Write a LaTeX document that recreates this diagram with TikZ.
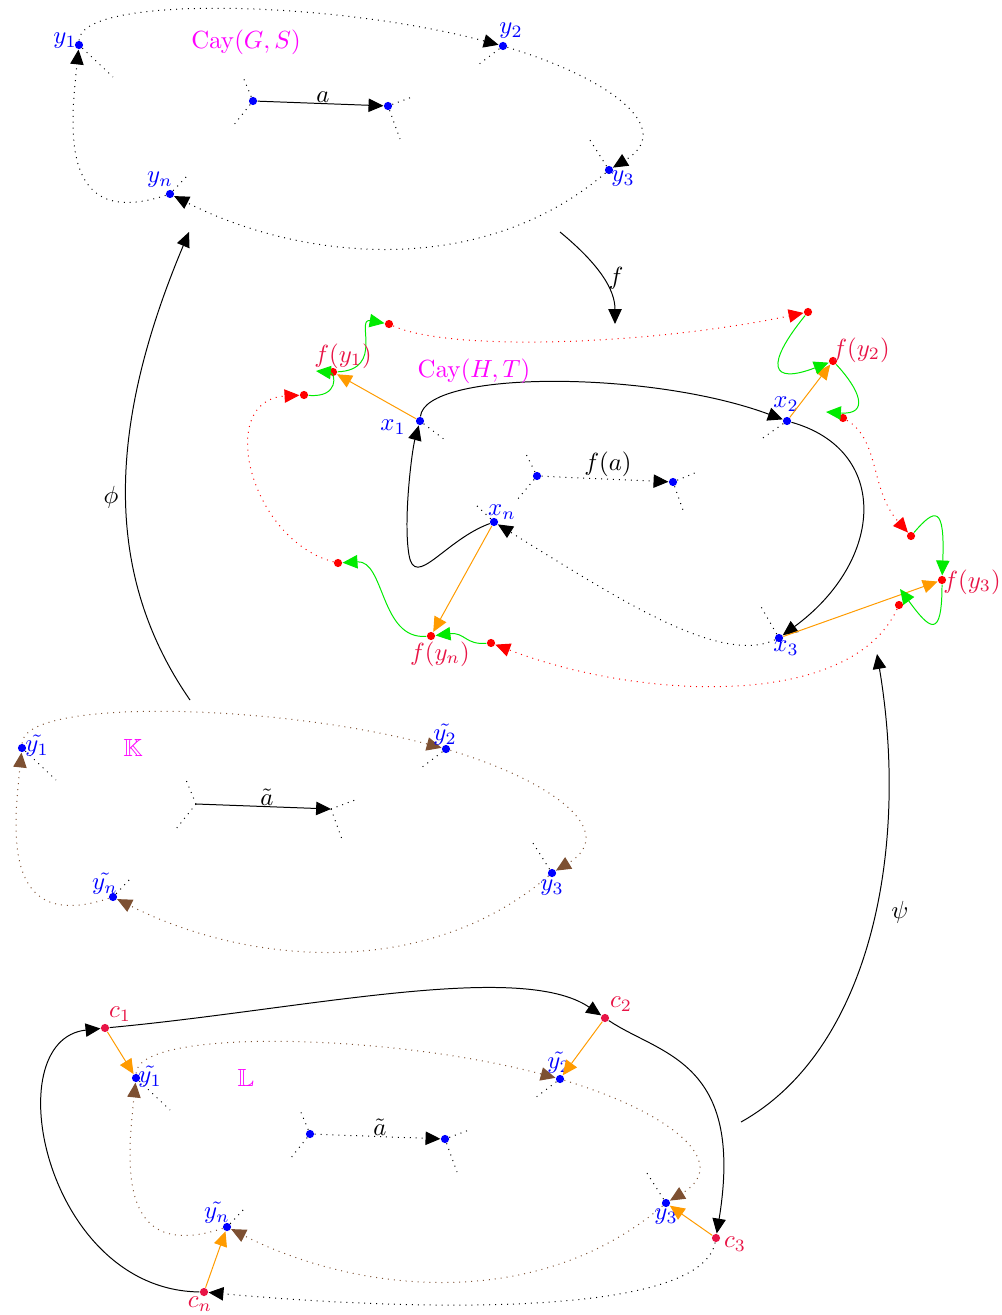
\documentclass[tikz,border=0pt]{standalone}
\usepackage{amssymb}
\usetikzlibrary{arrows.meta}
\definecolor{crim}{RGB}{232,20,70}
\definecolor{brn}{RGB}{125,80,50}
\definecolor{org}{RGB}{255,155,0}
\definecolor{grn}{RGB}{0,235,0}
\definecolor{mgt}{RGB}{255,0,255}
\definecolor{blu}{RGB}{0,0,255}
\definecolor{rd}{RGB}{255,0,0}
\begin{document}
\begin{tikzpicture}[x=0.4032pt,y=-0.4032pt,
  arr/.style={-{Triangle[length=6pt,width=5.4pt]}},
  bdot/.style={circle,fill=blu,inner sep=0pt,minimum size=3.3pt},
  rdot/.style={circle,fill=rd,inner sep=0pt,minimum size=3.3pt},
  cdot/.style={circle,fill=crim,inner sep=0pt,minimum size=3.3pt},
  stub/.style={dotted},
  lab/.style={inner sep=0pt,text=blu},
  flab/.style={inner sep=0pt,text=crim},
  mag/.style={inner sep=0pt,text=mgt},
  plab/.style={inner sep=0pt},
  oarr/.style={org,arr},
  garr/.style={grn,arr},
  rarr/.style={rd,dotted,arr},
  barr/.style={brn,dotted,arr}]
\path[use as bounding box] (0,0) rectangle (1001,1315);

% ================= G =================
\node[bdot] (g1) at (79,45) {};
\node[bdot] (g2) at (503,46) {};
\node[bdot] (g3) at (609,170) {};
\node[bdot] (gn) at (170,194) {};
\node[bdot] (ga) at (253,101) {};
\node[bdot] (gb) at (388,106) {};
\draw[stub] (g1) -- ++(34,32);
\draw[stub] (g2) -- ++(-25,19);
\draw[stub] (g3) -- ++(-21,-33);
\draw[stub] (gn) -- ++(18,-19);
\draw[stub] (ga) -- ++(-10,-24);
\draw[stub] (ga) -- ++(-20,25);
\draw[stub] (gb) -- ++(24,-9);
\draw[stub] (gb) -- ++(12,33);
\draw[dotted,arr] (g1) .. controls (80,-5) and (330,0) .. (g2);
\draw[dotted,arr] (g2) .. controls (615,80) and (675,130) .. (g3);
\draw[dotted,arr] (g3) .. controls (480,280) and (300,260) .. (gn);
\draw[dotted,arr] (gn) .. controls (60,230) and (70,130) .. (g1);
\draw[arr] (ga) -- (gb);
\node[plab] (gal) at (323,97) {$a$};
\node[lab] (g1l) at (65,41) {$y_1$};
\node[lab] (g2l) at (511,31) {$y_2$};
\node[lab] (g3l) at (623,179) {$y_3$};
\node[lab] (gnl) at (160,180) {$y_n$};
\node[mag] (gcay) at (246,42) {$\mathrm{Cay}(G,S)$};

% ================= maps =================
\coordinate (fs) at (560,232);
\coordinate (fe) at (615,324);
\draw[arr] (fs) .. controls (600,265) and (615,290) .. (fe);
\node[plab] (fl) at (616,278) {$f$};
\coordinate (ps) at (190,700);
\coordinate (pe) at (189,232);
\draw[arr] (ps) .. controls (100,570) and (110,420) .. (pe);
\node[plab] (pl) at (111,497) {$\phi$};
\coordinate (qs) at (741,1122);
\coordinate (qe) at (877,654);
\draw[arr] (qs) .. controls (870,1050) and (910,850) .. (qe);
\node[plab] (ql) at (900,912) {$\psi$};

% ================= H =================
\node[bdot] (h1) at (420,421) {};
\node[bdot] (h2) at (787,421) {};
\node[bdot] (h3) at (779,638) {};
\node[bdot] (hn) at (494,522) {};
\node[bdot] (ha) at (537,476) {};
\node[bdot] (hb) at (673,482) {};
\draw[stub] (h1) -- ++(25,19);
\draw[stub] (h2) -- ++(-27,19);
\draw[stub] (h3) -- ++(-19,-33);
\draw[stub] (hn) -- ++(-19,-18);
\draw[stub] (ha) -- ++(-12,-24);
\draw[stub] (ha) -- ++(-20,24);
\draw[stub] (hb) -- ++(24,-10);
\draw[stub] (hb) -- ++(11,31);
\draw[arr] (h1) .. controls (425,370) and (650,370) .. (h2);
\draw[arr] (h2) .. controls (890,450) and (885,560) .. (h3);
\draw[dotted,arr] (h3) .. controls (720,665) and (620,600) .. (hn);
\draw[arr] (hn) .. controls (445,540) and (415,590) .. (409,555)
               .. controls (403,520) and (412,450) .. (h1);
\draw[dotted,arr] (ha) -- (hb);
\node[plab] (hal) at (608,464) {$f(a)$};
\node[lab] (h1l) at (393,427) {$x_1$};
\node[lab] (h2l) at (786,404) {$x_2$};
\node[lab] (h3l) at (786,648) {$x_3$};
\node[lab] (hnl) at (502,512) {$x_n$};
\node[mag] (hcay) at (474,371) {$\mathrm{Cay}(H,T)$};

% images f(y_i) and neighbours
\node[rdot] (fy1) at (333,372) {};
\node[rdot] (fy2) at (833,361) {};
\node[rdot] (fy3) at (942,580) {};
\node[rdot] (fyn) at (431,636) {};
\node[rdot] (i1) at (304,395) {};
\node[rdot] (o1) at (389,324) {};
\node[rdot] (i2) at (808,312) {};
\node[rdot] (o2) at (843,418) {};
\node[rdot] (i3) at (911,536) {};
\node[rdot] (o3) at (899,605) {};
\node[rdot] (i4) at (491,643) {};
\node[rdot] (o4) at (338,563) {};
\coordinate (t1) at (316,371);
\coordinate (t2) at (826,412);
\coordinate (t3) at (900,589);
\draw[oarr] (h1) -- (fy1);
\draw[oarr] (h2) -- (fy2);
\draw[oarr] (h3) -- (fy3);
\draw[oarr] (hn) -- (fyn);
\draw[rarr] (o1) .. controls (450,352) and (650,345) .. (i2);
\draw[rarr] (o2) .. controls (880,440) and (870,490) .. (i3);
\draw[rarr] (o3) .. controls (850,710) and (640,700) .. (i4);
\draw[rarr] (o4) .. controls (250,540) and (215,400) .. (i1);
\draw[garr] (i1) .. controls (340,398) and (335,373) .. (t1);
\draw[garr] (fy1) .. controls (385,370) and (355,318) .. (o1);
\draw[garr] (i2) .. controls (765,365) and (770,385) .. (fy2);
\draw[garr] (fy2) .. controls (860,390) and (870,415) .. (t2);
\draw[garr] (i3) .. controls (935,508) and (945,505) .. (fy3);
\draw[garr] (fy3) .. controls (942,640) and (930,630) .. (t3);
\draw[garr] (i4) .. controls (465,645) and (465,632) .. (fyn);
\draw[garr] (fyn) .. controls (380,640) and (385,560) .. (o4);
\node[flab] (fy1l) at (343,356) {$f(y_1)$};
\node[flab] (fy2l) at (861,350) {$f(y_2)$};
\node[flab] (fy3l) at (972,582) {$f(y_3)$};
\node[flab] (fynl) at (440,654) {$f(y_n)$};

% ================= K =================
\node[bdot] (k1) at (22,748) {};
\node[bdot] (k2) at (446,749) {};
\node[bdot] (k3) at (552,873) {};
\node[bdot] (kn) at (113,897) {};
\coordinate (ka) at (196,804);
\coordinate (kb) at (331,809);
\draw[stub] (k1) -- ++(34,32);
\draw[stub] (k2) -- ++(-25,19);
\draw[stub] (k3) -- ++(-21,-33);
\draw[stub] (kn) -- ++(18,-19);
\draw[stub] (ka) -- ++(-10,-24);
\draw[stub] (ka) -- ++(-20,25);
\draw[stub] (kb) -- ++(24,-9);
\draw[stub] (kb) -- ++(12,33);
\draw[barr] (k1) .. controls (23,698) and (273,703) .. (k2);
\draw[barr] (k2) .. controls (558,783) and (618,833) .. (k3);
\draw[barr] (k3) .. controls (423,983) and (243,963) .. (kn);
\draw[barr] (kn) .. controls (3,933) and (13,833) .. (k1);
\draw[arr] (ka) -- (kb);
\node[plab] (kal) at (267,797) {$\tilde{a}$};
\node[lab] (k1l) at (37,746) {$\tilde{y_1}$};
\node[lab] (k2l) at (445,735) {$\tilde{y_2}$};
\node[lab] (k3l) at (552,885) {$\tilde{y_3}$};
\node[lab] (knl) at (105,884) {$\tilde{y_n}$};
\node[mag] (kK) at (133,748) {$\mathbb{K}$};

% ================= L =================
\node[bdot] (l1) at (136,1078) {};
\node[bdot] (l2) at (560,1079) {};
\node[bdot] (l3) at (666,1203) {};
\node[bdot] (ln) at (227,1227) {};
\node[bdot] (la) at (310,1134) {};
\node[bdot] (lb) at (445,1139) {};
\draw[stub] (l1) -- ++(34,32);
\draw[stub] (l2) -- ++(-25,19);
\draw[stub] (l3) -- ++(-21,-33);
\draw[stub] (ln) -- ++(18,-19);
\draw[stub] (la) -- ++(-10,-24);
\draw[stub] (la) -- ++(-20,25);
\draw[stub] (lb) -- ++(24,-9);
\draw[stub] (lb) -- ++(12,33);
\draw[barr] (l1) .. controls (137,1028) and (387,1033) .. (l2);
\draw[barr] (l2) .. controls (672,1113) and (732,1163) .. (l3);
\draw[barr] (l3) .. controls (537,1313) and (357,1293) .. (ln);
\draw[barr] (ln) .. controls (117,1263) and (127,1163) .. (l1);
\draw[dotted,arr] (la) -- (lb);
\node[plab] (lal) at (380,1127) {$\tilde{a}$};
\node[lab] (l1l) at (150,1077) {$\tilde{y_1}$};
\node[lab] (l2l) at (559,1063) {$\tilde{y_2}$};
\node[lab] (l3l) at (666,1214) {$\tilde{y_3}$};
\node[lab] (lnl) at (217,1213) {$\tilde{y_n}$};
\node[mag] (lL) at (246,1078) {$\mathbb{L}$};

\node[cdot] (c1) at (105,1028) {};
\node[cdot] (c2) at (605,1018) {};
\node[cdot] (c3) at (716,1238) {};
\node[cdot] (cn) at (204,1292) {};
\draw[arr] (c1) .. controls (300,1010) and (520,960) .. (c2);
\draw[arr] (c2) .. controls (660,1055) and (745,1060) .. (c3);
\draw[dotted,arr] (c3) .. controls (700,1320) and (400,1310) .. (cn);
\draw[arr] (cn) .. controls (45,1290) and (-5,1040) .. (c1);
\draw[oarr] (c1) -- (l1);
\draw[oarr] (c2) -- (l2);
\draw[oarr] (c3) -- (l3);
\draw[oarr] (cn) -- (ln);
\node[flab] (c1l) at (120,1014) {$c_1$};
\node[flab] (c2l) at (621,1004) {$c_2$};
\node[flab] (c3l) at (735,1244) {$c_3$};
\node[flab] (cnl) at (200,1304) {$c_n$};
\end{tikzpicture}
\end{document}
